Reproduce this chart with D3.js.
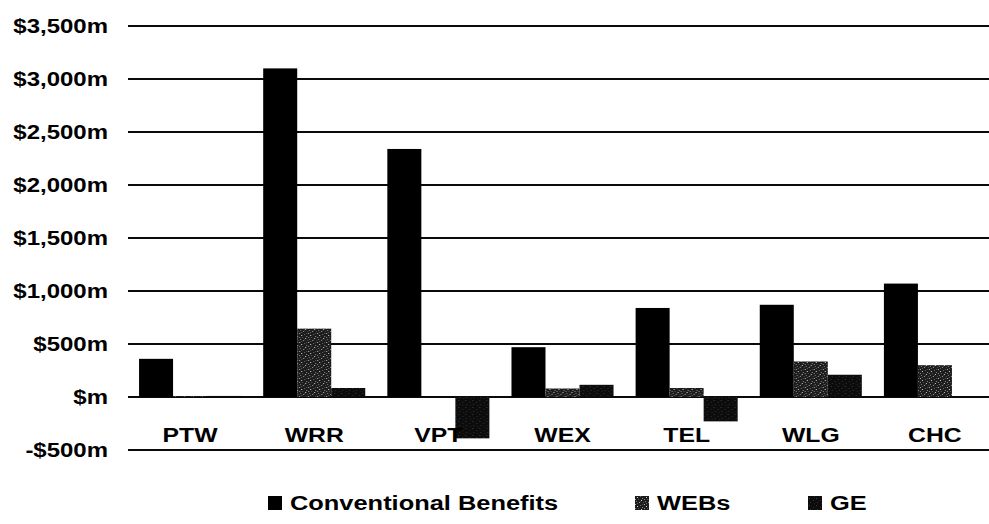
<!DOCTYPE html>
<html>
<head>
<meta charset="utf-8">
<script src="https://cdn.jsdelivr.net/npm/d3@7"></script>
<style>
  html, body { margin: 0; padding: 0; background: #fff; }
  svg { display: block; }
  text { font-family: "Liberation Sans", Arial, sans-serif; font-weight: bold; fill: #000; }
</style>
</head>
<body>
<svg id="chart" width="989" height="524"></svg>
<script>
// Benefit estimates by project ($m)
const categories = ["PTW", "WRR", "VPT", "WEX", "TEL", "WLG", "CHC"];
const seriesNames = ["Conventional Benefits", "WEBs", "GE"];
const conventional = [360, 3100, 2340, 470, 840, 870, 1070];
const webs = [5, 645, 0, 80, 85, 335, 300];
const ge = [10, 85, -390, 115, -230, 210, 5];
const yTicks = [-500, 0, 500, 1000, 1500, 2000, 2500, 3000, 3500];

const seriesValues = [conventional, webs, ge];

const W = 989, H = 524;
const sx = 1.27; // wide bold lettering
const svg = d3.select("#chart");

// Fill patterns: solid black, speckled grey, dark grain
const defs = svg.append("defs");
const pWebs = defs.append("pattern").attr("id", "pat-webs")
  .attr("patternUnits", "userSpaceOnUse").attr("width", 9).attr("height", 9);
pWebs.append("rect").attr("width", 9).attr("height", 9).attr("fill", "#1c1c1c");
[[0,0,"#b0b0b0"],[5,1,"#6a6a6a"],[2,2,"#d0d0d0"],[7,3,"#8a8a8a"],[3,4,"#555"],
 [6,5,"#c8c8c8"],[1,6,"#7a7a7a"],[4,7,"#9a9a9a"],[8,7,"#4a4a4a"],[2,8,"#606060"],
 [7,0,"#505050"],[5,6,"#404040"],[0,4,"#8c8c8c"]]
  .forEach(([x, y, c]) => pWebs.append("rect").attr("x", x).attr("y", y).attr("width", 1).attr("height", 1).attr("fill", c));
const pGe = defs.append("pattern").attr("id", "pat-ge")
  .attr("patternUnits", "userSpaceOnUse").attr("width", 7).attr("height", 7);
pGe.append("rect").attr("width", 7).attr("height", 7).attr("fill", "#0c0c0c");
[[1,1,"#3a3a3a"],[5,3,"#2e2e2e"],[2,5,"#333"],[6,6,"#262626"]]
  .forEach(([x, y, c]) => pGe.append("rect").attr("x", x).attr("y", y).attr("width", 1).attr("height", 1).attr("fill", c));

const fills = ["#000", "url(#pat-webs)", "url(#pat-ge)"];

const x0 = d3.scaleBand().domain(categories).range([128, 997])
  .paddingInner(0.178).paddingOuter(0.089);
const x1 = d3.scaleBand().domain(seriesNames).range([0, x0.bandwidth()]);
const y = d3.scaleLinear().domain([-500, 3500]).range([450, 26]);

// Gridlines
svg.append("g").selectAll("line").data(yTicks).join("line")
  .attr("x1", 128).attr("x2", W)
  .attr("y1", d => y(d)).attr("y2", d => y(d))
  .attr("stroke", "#0a0a0a").attr("stroke-width", 2);

// Bars
const groups = svg.append("g").selectAll("g").data(categories).join("g")
  .attr("transform", c => `translate(${x0(c)},0)`);
groups.selectAll("rect")
  .data((c, i) => seriesNames.map((s, k) => ({ s, k, v: seriesValues[k][i] })))
  .join("rect")
  .attr("x", d => x1(d.s))
  .attr("width", x1.bandwidth())
  .attr("y", d => y(Math.max(0, d.v)))
  .attr("height", d => Math.abs(y(d.v) - y(0)))
  .attr("fill", d => fills[d.k]);

// Value axis labels
const fmt = d => d === 0 ? "$m" : (d < 0 ? "-" : "") + "$" + d3.format(",")(Math.abs(d)) + "m";
const yAxis = svg.append("g").attr("transform", "translate(108,0)")
  .call(d3.axisLeft(y).tickValues(yTicks).tickFormat(fmt).tickSize(0).tickPadding(0));
yAxis.select(".domain").remove();
yAxis.selectAll("text")
  .attr("x", 0)
  .attr("font-size", 19.5)
  .attr("font-family", null)
  .attr("transform", `scale(${sx - 0.04},1)`);

// Category labels
const xAxis = svg.append("g").attr("transform", "translate(0,428)")
  .call(d3.axisBottom(x0).tickSize(0).tickPadding(0));
xAxis.select(".domain").remove();
xAxis.selectAll("text")
  .attr("font-size", 19.5)
  .attr("font-family", null)
  .attr("transform", `scale(${sx},1)`);

// Legend
const legendX = [268, 635, 808];
const legend = svg.append("g").selectAll("g").data(seriesNames).join("g")
  .attr("transform", (d, i) => `translate(${legendX[i]},0)`);
legend.append("rect")
  .attr("x", 0).attr("y", 496).attr("width", 14).attr("height", 14)
  .attr("fill", (d, i) => fills[i]);
legend.append("text")
  .attr("transform", `translate(22,510) scale(${sx},1)`)
  .attr("font-size", 20)
  .text(d => d);
</script>
</body>
</html>
